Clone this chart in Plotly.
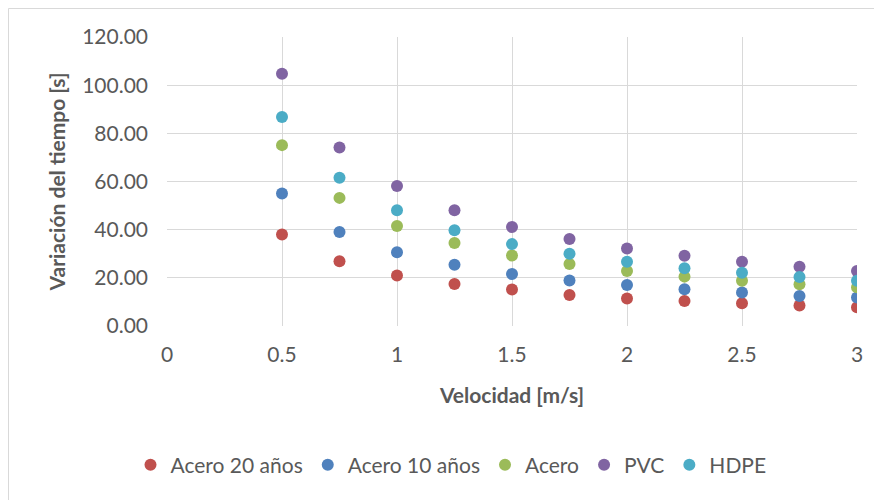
import plotly.graph_objects as go

velocidad = [0.5, 0.75, 1.0, 1.25, 1.5, 1.75, 2.0, 2.25, 2.5, 2.75, 3.0]
acero20 = [38.0, 26.9, 21.0, 17.4, 15.2, 12.9, 11.4, 10.4, 9.4, 8.5, 7.8]
acero10 = [55.0, 39.0, 30.6, 25.4, 21.6, 18.9, 17.0, 15.3, 13.9, 12.5, 11.8]
acero = [75.1, 53.2, 41.5, 34.5, 29.3, 25.7, 22.8, 20.5, 18.8, 17.3, 16.1]
pvc = [104.7, 74.1, 58.1, 48.1, 41.1, 36.1, 32.2, 29.2, 26.7, 24.6, 22.8]
hdpe = [86.8, 61.6, 48.1, 39.8, 34.0, 30.0, 26.7, 24.0, 22.1, 20.3, 18.8]

series = [
    ("Acero 20 años", acero20, "#C0504D"),
    ("Acero 10 años", acero10, "#4F81BD"),
    ("Acero", acero, "#9BBB59"),
    ("PVC", pvc, "#8064A2"),
    ("HDPE", hdpe, "#4BACC6"),
]

font_family = "Lato, 'Open Sans', sans-serif"
gray = "#595959"

W, H = 874, 492
L, R, T, B = 159, 25, 29, 174
PW, PH = W - L - R, H - T - B

fig = go.Figure()
for name, vals, color in series:
    fig.add_trace(go.Scatter(x=velocidad, y=vals, mode="markers", name=name,
                             marker=dict(size=12, color=color)))

fig.update_layout(
    width=W, height=H,
    margin=dict(l=L, r=R, t=T, b=B),
    paper_bgcolor="white", plot_bgcolor="white",
    font=dict(family=font_family, color=gray, size=21),
    showlegend=True,
    legend=dict(orientation="h", x=0.5 - 61 / PW, xanchor="center", y=(326 - 465) / PH, yanchor="middle",
                font=dict(size=21, color=gray), itemwidth=30, tracegroupgap=0),
    xaxis=dict(range=[0, 3], dtick=0.5, tick0=0, showgrid=True, gridcolor="#d9d9d9",
               gridwidth=1, zeroline=False, showline=False, ticks="",
               tickfont=dict(size=21, color=gray), ticklabelstandoff=14,
               title=dict(text="<b>Velocidad [m/s]</b>", font=dict(size=21, color=gray), standoff=23)),
    yaxis=dict(range=[0, 120], dtick=20, tickformat=".2f", showgrid=True, gridcolor="#d9d9d9",
               gridwidth=1, zeroline=False, showline=False, ticks="",
               tickfont=dict(size=21, color=gray), ticklabelstandoff=18,
               title=dict(text="<b>Variación del tiempo [s]</b>", font=dict(size=21, color=gray), standoff=10)),
    shapes=[dict(type="rect", xref="paper", yref="paper",
                 x0=-(L - 0.5) / PW, x1=1 + (R + 5) / PW,
                 y0=-(B + 5) / PH, y1=1 + (T - 0.5) / PH,
                 line=dict(color="#d9d9d9", width=1))],
)

fig.write_html("out.html")
